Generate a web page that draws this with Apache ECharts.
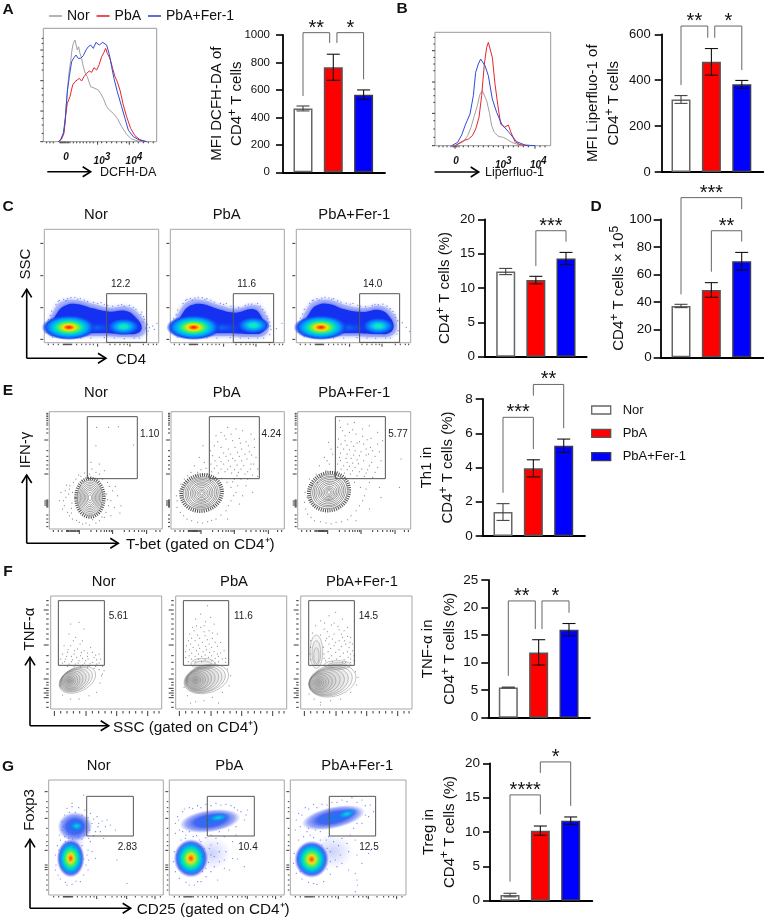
<!DOCTYPE html>
<html>
<head>
<meta charset="utf-8">
<style>html,body{margin:0;padding:0;background:#fff}#chart{width:764px;height:919px}</style>
<script src="https://cdn.jsdelivr.net/npm/echarts@6/dist/echarts.min.js"></script>
</head>
<body>
<div id="chart"></div>
<script>
const FONT = '"Liberation Sans", Arial, sans-serif';
const groups = ['Nor', 'PbA', 'PbA+Fer-1'];

// ---- group summaries: mean and error per treatment ----
const dcfhMean = [465, 765, 565], dcfhErr = [18, 95, 35];
const liperMean = [316, 480, 382], liperErr = [17, 58, 17];
const cd4PctMean = [12.4, 11.15, 14.3], cd4PctErr = [0.45, 0.55, 0.88];
const cd4CountMean = [37.2, 48.8, 69.6], cd4CountErr = [1.2, 5.3, 6.4];
const th1Mean = [1.4, 3.95, 5.27], th1Err = [0.49, 0.5, 0.39];
const tnfMean = [5.5, 11.86, 15.98], tnfErr = [0.06, 2.3, 1.12];
const tregMean = [0.82, 10.2, 11.64], tregErr = [0.26, 0.67, 0.55];

// significance brackets: from, to, top, left foot, right foot, stars
const dcfhBrackets = [[0, 0.88, 1017, 556, 942, '**'], [1.12, 2, 1017, 942, 677, '*']];
const liperBrackets = [[0, 0.88, 636, 379, 585, '**'], [1.11, 2, 636, 585, 444, '*']];
const cd4PctBrackets = [[1, 2, 18.34, 13.2, 16.74, '***']];
const cd4CountBrackets = [[0, 2, 115.7, 45.6, 107.4, '***'], [1, 2, 91.7, 62, 83.8, '**']];
const th1Brackets = [[0, 1, 6.93, 2.53, 5.08, '***'], [1, 2, 8.85, 8.19, 6.29, '**']];
const tnfBrackets = [[0, 0.89, 21.2, 7.6, 16.1, '**'], [1.11, 2, 21.2, 16.1, 19.07, '*']];
const tregBrackets = [[0, 1, 15.4, 2.77, 12.57, '****'], [1, 2, 20.2, 18.6, 13.8, '*']];

// ---- fluorescence histograms (channel, count) ----
const dcfhNor = [[45,0],[52,6],[58,12],[62,30],[65,55],[68,100],[72,150],[75,185],[78,215],[82,240],[86,275],[90,295],[95,305],[98,300],[102,275],[106,285],[110,265],[115,250],[120,225],[126,205],[132,195],[138,200],[142,165],[148,168],[155,160],[165,155],[172,145],[180,130],[190,105],[198,95],[210,85],[222,70],[235,45],[250,22],[265,8],[285,2],[310,0]];
const dcfhPba = [[45,0],[55,8],[62,25],[68,85],[72,115],[80,135],[88,170],[95,180],[100,175],[108,190],[115,182],[122,195],[130,205],[138,212],[145,208],[152,222],[160,215],[168,232],[175,255],[182,268],[187,280],[192,265],[200,250],[208,220],[215,195],[222,180],[230,155],[240,110],[250,75],[262,40],[275,18],[290,6],[310,0]];
const dcfhFer = [[45,0],[52,5],[60,25],[66,70],[72,150],[78,195],[85,240],[92,252],[98,260],[105,250],[112,250],[120,258],[128,275],[135,285],[142,290],[150,280],[158,298],[168,290],[178,298],[190,290],[198,262],[205,225],[212,190],[222,150],[235,105],[245,70],[255,35],[270,15],[290,4],[310,0]];
const liperNor = [[60,0],[85,12],[98,30],[108,55],[118,90],[127,120],[135,155],[142,165],[148,165],[155,135],[163,100],[170,60],[178,40],[190,28],[205,25],[215,20],[230,10],[250,3],[275,0]];
const liperPba = [[60,0],[85,15],[100,20],[112,30],[122,50],[132,85],[140,150],[148,245],[155,295],[160,310],[165,315],[172,265],[180,185],[188,125],[197,65],[208,55],[220,62],[228,40],[240,12],[255,3],[280,0]];
const liperFer = [[50,0],[68,10],[80,32],[92,65],[105,95],[115,150],[122,220],[130,245],[137,260],[143,265],[150,240],[160,210],[172,140],[185,100],[200,65],[220,42],[245,12],[270,2],[300,0]];

// ---- pseudocolour outlines and hot spots (x, y in 1/3-pixel channel units) ----
const cOutlineNor = [[17,22],[15,60],[28,95],[50,122],[95,128],[150,115],[195,105],[250,108],[285,85],[305,50],[295,22],[250,17],[165,20],[65,18],[32,22]];
const cOutlinePba = [[15,24],[14,60],[28,95],[55,125],[95,128],[150,112],[195,102],[258,112],[285,85],[296,50],[285,24],[245,17],[165,20],[65,18],[30,20]];
const cOutlineFer = [[17,24],[16,60],[30,98],[55,124],[100,128],[150,112],[198,104],[255,110],[292,85],[302,50],[290,24],[245,17],[165,20],[65,18],[30,20]];
const cCoreNor = [[28,30],[25,58],[38,88],[60,110],[95,116],[145,103],[195,93],[245,95],[275,75],[292,48],[282,30],[245,26],[165,29],[65,27],[40,30]];
const cCorePba = [[26,30],[24,58],[38,90],[62,112],[95,116],[145,100],[195,90],[250,100],[275,75],[284,48],[274,30],[245,26],[165,29],[65,27],[40,30]];
const cCoreFer = [[28,30],[26,58],[40,90],[62,112],[98,116],[145,100],[198,92],[250,98],[282,75],[291,48],[280,30],[245,26],[165,29],[65,27],[40,30]];
const cSpotsNor = [[150,45,80,20,0,'cool'],[74,46,82,38,0,'hot'],[238,48,50,26,0,'warm']];
const cSpotsPba = [[150,45,80,20,0,'cool'],[70,46,82,38,0,'hot'],[249,52,50,26,0,'warm']];
const cSpotsFer = [[150,45,80,20,0,'cool'],[74,46,82,38,0,'hot'],[246,50,50,26,0,'warm']];

// cell events drawn outside the dense populations
const cDotsNor = [5,30,10,48,12,70,22,95,35,115,58,130,80,135,108,133,130,124,160,118,190,112,222,112,255,112,275,100,290,85,300,70,309,55,312,35,308,25,285,14,240,12,180,15,110,13,55,13,25,16,315,45,325,50,338,58,330,40,12,38,18,82,42,124,70,132,170,120,240,110,298,78,303,44,45,127,92,136,120,128,148,121,205,110,268,106,292,92,296,62,14,56,20,26,70,15,140,14,210,14,270,14,65,126,100,131,180,115,232,114];
const cDotsPba = [4,32,8,50,10,72,22,98,38,118,60,132,84,136,110,132,132,122,160,115,190,108,225,112,262,118,278,100,290,80,298,62,302,40,298,24,280,14,235,13,180,15,110,14,52,13,22,17,318,42,335,58,12,36,18,84,46,127,74,134,168,118,244,116,292,72,300,50,50,130,96,135,122,127,150,118,205,106,270,110,284,92,13,55,20,28,70,15,140,14,210,14,262,14,66,128,104,130,182,110,234,116];
const cDotsFer = [6,32,10,50,12,74,24,100,40,118,62,132,86,136,112,132,134,122,162,116,192,110,228,112,260,116,282,102,296,84,304,66,309,44,302,26,282,14,238,13,182,15,112,14,54,13,24,18,318,60,330,46,340,34,13,38,19,86,48,126,76,134,170,118,246,114,298,76,305,36,52,128,98,134,124,126,150,119,208,108,272,110,290,94,14,58,20,28,72,15,142,14,212,14,268,14,68,128,106,130,184,112,236,115];

// contour levels: centre x, centre y, radius x, radius y, tilt in degrees
const eLevelsNor = [[122,94,37,52,0],[122,94,33,47,0],[122,94,29,42,0],[122,94,25,37,0],[122,94,21,32,0],[122,94,17,27,0],[122,94,13,22,0],[122,94,9,16,0],[122,94,5,9,0]];
const eLevelsPba = [[92,108,56,48,15],[92,108,50,44,15],[92,108,45,40,15],[92,108,40,36,15],[92,108,34,31,15],[92,108,29,27,15],[92,108,24,22,15],[92,107,19,18,10],[92,107,14,13,0],[92,107,9,9,0],[92,107,5,5,0]];
const eLevelsFer = [[94,112,56,50,25],[94,112,50,45,25],[94,112,45,41,25],[94,112,40,36,25],[94,112,34,31,25],[94,112,29,26,25],[94,111,24,22,25],[94,110,19,17,25],[94,110,14,13,20],[94,110,9,9,0],[94,110,5,5,0]];
const eHaloNor = [[122,94,42,58,0]];
const eHaloPba = [[92,108,62,54,15]];
const eHaloFer = [[94,112,62,56,25]];
const eDotsNor = [142,305,178,305,207,307,252,252,140,250,125,200,150,195,140,170,165,175,120,165,128,180,115,160,60,120,50,95,45,70,55,50,70,30,90,20,120,12,150,25,170,50,185,85,190,115,175,140,150,165,95,158,72,140,58,105,40,60,205,100,215,70,35,110,60,40,130,28,100,15,165,35,178,70,66,62,80,150,106,168,52,132,198,128,30,85,212,48,68,78,70,110,172,105,175,88,160,150,88,162,66,48,82,26,110,18,140,18,158,36,62,130,180,128,48,115,42,85,195,65,185,40];
const eDotsPba = [170,305,195,300,215,295,240,285,250,270,150,290,135,280,165,270,185,265,205,272,225,262,250,245,130,250,150,245,172,240,192,245,212,240,235,232,255,215,125,220,145,215,165,218,185,212,205,218,228,210,248,195,260,180,120,195,138,190,158,195,178,188,198,192,218,190,238,180,122,172,142,168,162,172,182,168,202,170,222,165,245,162,260,158,96,250,85,215,100,200,70,190,90,178,105,182,60,170,75,160,40,150,25,115,18,85,28,50,48,30,80,20,110,22,135,30,165,55,180,85,195,110,205,75,170,30,225,130,215,100,245,110,152,152,128,156,190,150,210,150,160,280,180,285,208,258,232,250,140,262,118,235,158,228,178,225,200,230,222,225,242,222,132,205,150,202,172,205,192,205,212,205,130,182,150,180,170,180,190,178,210,180,230,172,240,195,110,165,95,163,80,170,50,160,30,135,16,100,18,65,38,40,62,25,95,18,122,26,150,42,172,70,188,100,200,130,168,140,180,125,230,150,198,160,185,142,118,145];
const eDotsFer = [125,325,150,315,170,320,195,300,215,310,240,290,255,265,135,295,155,290,175,285,195,278,220,272,240,255,122,270,142,265,160,262,178,258,198,255,218,245,245,232,120,245,138,240,155,238,172,235,190,232,212,225,232,218,250,205,125,215,145,212,160,212,178,208,198,205,222,200,240,185,120,195,138,190,155,188,172,185,192,180,210,178,232,170,120,172,140,168,158,165,178,160,200,158,225,155,92,260,105,225,80,215,95,195,65,190,85,175,55,165,70,155,35,150,22,110,20,80,30,45,50,25,85,18,115,20,150,28,175,55,195,85,205,120,215,60,175,25,250,95,310,210,305,125,128,305,142,280,165,298,185,262,208,268,130,255,148,252,168,248,205,240,225,235,128,228,148,225,168,222,185,220,205,222,128,205,148,200,165,198,182,196,215,190,130,180,148,178,165,175,185,172,205,168,110,160,98,172,78,165,100,240,88,205,60,140,45,130,28,95,24,60,40,35,68,22,100,16,132,22,160,40,185,70,200,100,188,125,170,140,215,140,245,125];
const fLevelsNor = [[80,88,58,36,25],[76,88,52,33,25],[72,87,46,31,25],[68,87,40,29,25],[64,86,34,27,25],[60,86,28,25,20],[58,85,23,22,15],[56,85,18,18,0],[55,85,14,14,0],[55,85,10,10,0],[55,85,7,6,0],[55,85,4,3,0]];
const fLevelsPba = [[92,90,68,42,15],[88,90,62,39,15],[84,89,56,37,15],[80,89,50,34,15],[75,88,44,32,15],[70,88,38,29,15],[66,87,32,27,10],[62,87,27,24,10],[60,87,22,20,0],[58,87,17,16,0],[58,87,12,11,0],[58,87,8,7,0],[58,87,4,3,0],[82,136,36,16,0],[82,134,26,10,0]];
const fLevelsFer = [[95,85,72,47,15],[90,84,66,43,15],[84,83,60,40,15],[78,82,54,37,15],[72,82,47,34,15],[66,81,40,30,15],[61,80,34,27,10],[57,80,27,23,10],[55,79,21,19,0],[54,79,15,14,0],[53,79,10,9,0],[53,79,5,4,0],[47,172,19,50,0],[47,168,13,37,0],[47,160,8,24,0],[110,132,40,13,0],[110,131,28,8,0]];
const fDotsNor = [60,255,85,260,100,240,55,225,75,215,95,205,120,185,40,190,60,190,80,180,100,175,125,170,145,165,35,165,50,170,70,165,90,160,110,158,130,155,150,150,30,150,45,150,65,148,85,145,105,145,125,140,145,138,155,128,35,138,55,135,75,135,95,132,115,130,135,128,160,115,152,100,148,78,138,50,115,40,85,30,60,30,35,42,28,70,48,158,62,158,78,155,95,152,112,150,138,148,42,142,62,142,82,138,102,138,118,136,138,135,52,178,72,175,92,170,110,168,135,162,68,205,88,195,50,128,70,128,90,126,110,125,130,122,145,118,155,105];
const fDotsPba = [95,310,75,285,105,275,60,270,90,262,115,255,50,245,75,245,100,235,125,225,42,225,65,222,88,220,110,212,135,200,38,205,58,205,80,200,100,195,125,188,145,175,32,190,52,185,72,182,92,178,115,172,135,168,30,172,48,168,68,165,88,162,108,160,128,158,150,152,30,155,48,150,68,150,88,148,108,145,128,142,150,140,155,120,165,100,160,70,140,50,110,35,85,25,60,22,35,40,25,65,128,18,45,18,62,250,85,250,55,235,85,232,110,228,48,212,72,212,95,208,118,200,45,195,68,192,90,188,108,185,42,178,62,175,82,172,102,170,125,165,40,160,58,158,78,158,98,155,118,152,140,150,38,142,58,142,78,142,118,138];
const fDotsFer = [105,290,85,280,125,270,60,265,100,258,140,245,45,250,70,240,115,238,150,215,35,228,60,222,85,218,125,215,155,195,30,205,75,205,105,200,135,195,155,175,30,185,68,185,90,182,115,178,140,172,160,160,28,165,70,165,92,160,118,158,142,155,160,145,30,148,75,145,95,142,150,140,165,112,172,95,168,72,150,50,120,30,90,25,60,20,40,30,25,45,60,12,72,258,92,252,112,248,130,235,80,232,100,225,122,225,140,218,78,212,95,210,115,205,132,205,148,200,85,195,100,190,122,188,145,185,82,172,105,170,128,168,150,165,85,152,108,150,130,148,150,150,70,152,125,140,135,140];

const gSpotsNor = [[79,205,52,44,0,'soft'],[84,207,24,17,0,'cold'],[80,160,30,30,0,'faint'],[66,110,42,58,0,'hot2']];
const gSpotsPba = [[125,125,60,50,0,'faint'],[122,222,92,34,8,'soft'],[147,232,36,14,8,'cold'],[65,110,52,58,0,'hot2']];
const gSpotsFer = [[125,130,65,52,0,'faint'],[129,232,97,33,12,'soft'],[169,243,34,15,15,'cold'],[64,107,52,56,0,'hot2']];
const gDotsNor = [40,220,48,240,55,260,70,265,90,262,108,255,125,245,145,235,160,222,170,205,155,190,135,178,120,170,100,168,40,195,32,180,50,160,60,170,85,150,95,130,115,120,112,90,105,60,95,40,70,32,50,38,28,60,22,90,20,120,26,148,35,165,130,215,148,205,175,225,185,210,200,195,105,300,205,105,235,35,70,275,125,160,130,130,140,110,165,170,48,175,60,182,72,168,90,175,108,180,122,195,140,190,150,215,118,232,135,228,100,240,80,248,62,248,45,205,118,135,105,108,118,75,30,135,20,75,82,42,55,30,35,48,100,148,75,142,120,105];
const gDotsPba = [18,215,25,235,40,250,60,262,85,268,110,272,140,275,170,272,195,262,215,250,230,240,30,195,18,185,50,180,72,175,95,160,120,140,135,115,150,100,165,80,180,75,205,108,35,165,15,130,12,100,18,70,30,50,50,38,75,30,95,40,110,55,125,70,235,255,140,170,165,175,190,160,200,180,215,140,225,85,145,45,125,150,100,115,170,130,48,170,28,225,45,258,70,260,95,262,125,268,155,270,185,268,205,255,225,225,40,190,60,190,82,178,110,172,125,180,150,190,178,195,200,205,105,140,85,145,118,98,135,85,110,80,100,70,150,130,125,120,165,105,190,110,85,40,60,30,30,80,22,120,90,165,145,155];
const gDotsFer = [18,225,25,245,45,262,70,272,95,272,125,278,155,285,185,292,215,285,240,270,250,250,225,240,200,215,30,205,15,195,50,190,70,172,95,150,120,130,135,105,155,95,175,75,195,65,215,95,235,125,145,148,170,155,195,165,25,165,12,125,10,95,18,65,35,48,55,38,80,32,100,40,120,62,200,45,202,30,195,10,115,175,75,195,240,135,35,240,55,258,80,262,110,270,140,278,170,280,200,278,225,268,235,235,215,215,190,200,55,200,90,190,108,165,130,160,155,170,180,180,110,140,95,130,120,100,140,85,110,78,150,120,175,130,200,120,90,165,60,180,40,175,70,35,30,70,22,110];

// ---- gates: x0, y0, x1, y1 and the printed frequency ----
const cGates = [[187,1,307,147],[189,1,310,147],[190,1,310,147]];
const cGateValues = ['12.2', '11.6', '14.0'];
const eGates = [[114,151,264,337],[115,151,265,337],[113,151,263,337]];
const eGateValues = ['1.10', '4.24', '5.77'];
const fGates = [[23,131,161,325],[23,131,159,325],[24,131,161,325]];
const fGateValues = ['5.61', '11.6', '14.5'];
const gGates = [[114,177,254,296],[114,177,255,296],[117,177,256,296]];
const gGateValues = ['2.83', '10.4', '12.5'];

// ---- channel tick positions on the biexponential scales ----
const cTicks = {xMajor:[160,257], xMinor:[12,27,42,57,60,63,66,69,72,75,78,82,97,112,125,137,147,197,212,227,239,249,297,312,327,337], yMajor:[298,201,105,10], yMinor:[]};
const eTicks = {xMajor:[90,190,292], xMinor:[12,27,38,52,55,58,62,65,68,71,74,77,80,84,87,125,142,155,165,172,180,186,225,240,255,268,278,285,320,332], yMajor:[267,165,78,72,84], yMinor:[347,342,337,331,325,318,312,300,288,235,218,205,192,180,87,81,75,69,66,42,30,20,7]};
const fTicks = {xMajor:[11,106,198,291], xMinor:[30,49,68,87,125,144,163,182,217,236,255,274,310,325], yMajor:[297,192,90,62,48,34], yMinor:[325,312,285,270,255,240,225,210,160,140,120,105,80,72,55,41,20,5]};
const gTicks = {xMajor:[144,234,319], xMinor:[15,30,44,47,50,53,56,59,62,65,68,72,86,100,112,125,136,170,190,205,218,228,260,280,295,310,335], yMajor:[310,230,134,90,83,76], yMinor:[280,262,250,200,180,160,148,60,45,30,15]};
const histATicks = {xMajor:[163,258], xMinor:[10,20,30,50,53,56,59,62,65,68,72,75,80,90,100,110,120,130,140,150,175,190,205,220,235,250,270,285,300,315,330], yMajor:[275,183,92,0], yMinor:[310,295,255,235,215,160,140,120,70,50,25]};
const histBTicks = {xMajor:[60,205,300], xMinor:[12,24,36,48,54,57,63,66,72,85,100,115,130,145,160,175,190,220,235,250,265,280,315,330], yMajor:[285,191,97,0], yMinor:[325,305,265,245,225,170,150,130,75,50,25]};

// ---- palettes for the density hot spots ----
const ramps = {
  hot:  [[0,'#ff1200'],[0.12,'#ff7000'],[0.22,'#ffe000'],[0.35,'#70f040'],[0.5,'#00e0c0'],[0.68,'#00a0ff'],[0.85,'#1050f0'],[1,'rgba(20,40,240,0)']],
  warm: [[0,'#10f0a0'],[0.22,'#10e0d0'],[0.5,'#00a0ff'],[0.8,'#1050f0'],[1,'rgba(20,40,240,0)']],
  cool: [[0,'#0a70f5'],[1,'rgba(20,50,240,0)']],
  hot2: [[0,'#ff3010'],[0.1,'#ff9000'],[0.22,'#e8e020'],[0.38,'#40f060'],[0.52,'#00d8c8'],[0.68,'#00a0f0'],[0.82,'rgba(40,70,240,.8)'],[1,'rgba(70,90,245,0)']],
  cold: [[0,'#10d0e8'],[0.5,'#1090f0'],[1,'rgba(30,90,240,0)']],
  soft: [[0,'#1878f0'],[0.5,'rgba(35,75,240,.85)'],[0.8,'rgba(60,85,240,.5)'],[1,'rgba(80,100,245,0)']],
  faint:[[0,'rgba(70,90,240,.28)'],[1,'rgba(80,100,245,0)']]
};
const toGradient = name => new echarts.graphic.RadialGradient(0.5, 0.5, 0.5,
  ramps[name].map(s => ({offset: s[0], color: s[1]})));

const pairs = flat => { const out = []; for (let i = 0; i < flat.length; i += 2) out.push([flat[i], flat[i + 1]]); return out; };

const grids = [], xAxes = [], yAxes = [], series = [];

// Registers a grid and its pair of value axes, returning the index for series to attach to.
function addGrid(grid, xAxis, yAxis) {
  const index = grids.length;
  grids.push(grid);
  xAxes.push(Object.assign({gridIndex: index, type: 'value'}, xAxis));
  yAxes.push(Object.assign({gridIndex: index, type: 'value'}, yAxis));
  return index;
}

// Bar panel with error bars, brackets and a two-line axis title.
function barPanel(p) {
  const g = addGrid(
    {left: p.axisX, top: p.yTop, width: p.xEnd - p.axisX, height: p.y0 - p.yTop, containLabel: false},
    {min: (p.axisX - p.c0) / p.step, max: 2 + (p.xEnd - p.c0 - 2 * p.step) / p.step,
     axisLine: {show: true, onZero: false, lineStyle: {color: '#000', width: 1.8}}, axisTick: {show: false}, axisLabel: {show: false}, splitLine: {show: false}},
    {min: 0, max: p.max, interval: p.interval, name: p.title, nameLocation: 'middle', nameRotate: 90, nameGap: p.nameGap,
     nameMoveOverlap: false,
     nameTextStyle: {fontFamily: FONT, fontSize: p.titleSize, color: '#111', lineHeight: p.titleLine, align: 'center',
       rich: {sup: {fontFamily: FONT, fontSize: p.titleSize - 3, verticalAlign: 'top', color: '#111', padding: [0, 0, 6, 0]}}},
     axisLine: {show: true, onZero: false, lineStyle: {color: '#000', width: 1.8}}, axisTick: {show: true, length: 7, lineStyle: {color: '#000', width: 1.6}},
     axisLabel: {fontFamily: FONT, fontSize: p.labelSize, color: '#111', margin: p.labelMargin, formatter: v => String(v)}, splitLine: {show: false}}
  );
  series.push({
    type: 'bar', xAxisIndex: g, yAxisIndex: g, barWidth: 19, silent: true, z: 2,
    data: p.mean.map((v, i) => ({value: [i, v], itemStyle: {
      color: ['#ffffff', '#ff0000', '#0000ff'][i], borderColor: ['#666', '#555', '#3a3a55'][i], borderWidth: 1.5}}))
  });
  // error bars sit on top of the bars so the lower whisker stays visible
  series.push({
    type: 'custom', xAxisIndex: g, yAxisIndex: g, silent: true, z: 6,
    data: p.mean.map((v, i) => [i, v - p.err[i], v + p.err[i]]),
    renderItem(params, api) {
      const lo = api.coord([api.value(0), api.value(1)]), hi = api.coord([api.value(0), api.value(2)]);
      const style = {stroke: api.value(0) === 0 ? '#444' : '#111', lineWidth: 1.1};
      return {type: 'group', children: [
        {type: 'line', shape: {x1: lo[0], y1: lo[1], x2: hi[0], y2: hi[1]}, style},
        {type: 'line', shape: {x1: lo[0] - 6.5, y1: lo[1], x2: lo[0] + 6.5, y2: lo[1]}, style},
        {type: 'line', shape: {x1: hi[0] - 6.5, y1: hi[1], x2: hi[0] + 6.5, y2: hi[1]}, style}
      ]};
    }
  });
  series.push({
    type: 'custom', xAxisIndex: g, yAxisIndex: g, silent: true, z: 6,
    data: p.brackets.map((b, i) => [i]),
    renderItem(params, api) {
      const b = p.brackets[api.value(0)];
      const a = api.coord([b[0], b[3]]), t1 = api.coord([b[0], b[2]]), t2 = api.coord([b[1], b[2]]), c = api.coord([b[1], b[4]]);
      return {type: 'group', children: [
        {type: 'polyline', shape: {points: [a, t1, t2, c]}, style: {stroke: '#666', lineWidth: 1, fill: null}},
        {type: 'text', x: (t1[0] + t2[0]) / 2, y: t1[1] - 4.5, style: {text: b[5], font: '20px ' + FONT, fill: '#111', textAlign: 'center', textVerticalAlign: 'middle'}}
      ]};
    }
  });
}

// Drawing helpers for the cytometry panels, all placed through the panel's own axes.
function polygonEl(api, pts, style) {
  return {type: 'polygon', shape: {points: pts.map(q => api.coord(q)), smooth: 0.45}, style};
}
function ellipseEl(api, e, style) {
  const c = api.coord([e[0], e[1]]), s = api.size([e[2], e[3]]);
  return {type: 'ellipse', shape: {cx: 0, cy: 0, rx: s[0], ry: s[1]}, x: c[0], y: c[1], rotation: e[4] * Math.PI / 180, style};
}
function spotEl(api, e) {
  const c = api.coord([e[0], e[1]]), s = api.size([e[2], e[3]]);
  return {type: 'circle', shape: {cx: 0, cy: 0, r: 10}, x: c[0], y: c[1], scaleX: s[0] / 10, scaleY: s[1] / 10,
    rotation: e[4] * Math.PI / 180, style: {fill: toGradient(e[5])}};
}
function tickEls(api, ticks, W, H, gap, major, minor, color) {
  const out = [];
  const xTick = (v, len) => { const q = api.coord([v, 0]); out.push({type: 'line', shape: {x1: q[0], y1: q[1] + gap, x2: q[0], y2: q[1] + gap + len}, style: {stroke: color, lineWidth: 0.9}}); };
  const yTick = (v, len) => { const q = api.coord([0, v]); out.push({type: 'line', shape: {x1: q[0] - gap, y1: q[1], x2: q[0] - gap - len, y2: q[1]}, style: {stroke: color, lineWidth: 0.9}}); };
  ticks.xMajor.forEach(v => xTick(v, major));
  ticks.xMinor.forEach(v => xTick(v, minor));
  ticks.yMajor.forEach(v => yTick(v, major));
  ticks.yMinor.forEach(v => yTick(v, minor));
  return out;
}

// One gated cytometry plot; `paint` supplies the density or contour artwork.
function flowPanel(r, o) {
  const W = (r[1] - r[0]) * 3, H = (r[3] - r[2]) * 3;
  const g = addGrid(
    {left: r[0], top: r[2], width: r[1] - r[0], height: r[3] - r[2], show: true, borderColor: '#a6a6a6', borderWidth: 1, backgroundColor: 'transparent'},
    {min: 0, max: W, show: false}, {min: 0, max: H, show: false}
  );
  series.push({type: 'scatter', xAxisIndex: g, yAxisIndex: g, silent: true, symbol: 'circle', symbolSize: o.dotSize,
    itemStyle: {color: o.dotColor, opacity: 0.85}, data: pairs(o.dots)});
  series.push({
    type: 'custom', xAxisIndex: g, yAxisIndex: g, silent: true, data: [[0]],
    renderItem(params, api) {
      const kids = o.paint(api);
      const a = api.coord([o.gate[0], o.gate[1]]), b = api.coord([o.gate[2], o.gate[3]]);
      kids.push({type: 'rect', shape: {x: a[0], y: b[1], width: b[0] - a[0], height: a[1] - b[1]}, style: {fill: null, stroke: '#555', lineWidth: 1}});
      const l = api.coord(o.labelAt);
      kids.push({type: 'text', x: l[0], y: l[1], style: {text: o.label, font: '10px ' + FONT, fill: '#222', textAlign: 'center', textVerticalAlign: 'middle'}});
      return {type: 'group', children: kids.concat(tickEls(api, o.ticks, W, H, o.tickGap, o.tickMajor, o.tickMinor, '#222'))};
    }
  });
}
const densityPaint = (outline, core, spots) => api => [
  polygonEl(api, outline, {fill: '#b4bdf8', shadowBlur: 4, shadowColor: '#b4bdf8'}),
  polygonEl(api, core, {fill: '#1430f0', shadowBlur: 5, shadowColor: '#3a4af0'})
].concat(spots.map(s => spotEl(api, s)));
const spotPaint = spots => api => spots.map(s => spotEl(api, s));
// Nested contour lines; `shade` builds up a gray wash toward the densest level.
const contourPaint = (levels, halo, stroke, lineWidth, shade) => api =>
  halo.map(h => ellipseEl(api, h, {fill: null, stroke: '#222', lineWidth: 3.5, lineDash: [1, 1.2], opacity: 0.8}))
    .concat(levels.map((e, i) => ellipseEl(api, e, {fill: i === 0 ? '#fff' : shade, stroke, lineWidth})));

// Histogram overlay with a hand-set log-style channel axis.
function histPanel(r, curves, labelVals, labelText, ticks) {
  const W = (r[1] - r[0]) * 3, H = (r[3] - r[2]) * 3;
  const g = addGrid(
    {left: r[0], top: r[2], width: r[1] - r[0], height: r[3] - r[2], show: true, borderColor: '#999', borderWidth: 1, backgroundColor: 'transparent'},
    {min: 0, max: W, axisLine: {show: false}, axisTick: {show: false}, splitLine: {show: false},
     axisLabel: {customValues: labelVals, margin: 11, formatter: v => labelText[labelVals.indexOf(v)], color: '#111',
       fontFamily: FONT, fontSize: 10, fontStyle: 'italic', fontWeight: 'bold',
       rich: {s: {fontFamily: FONT, fontSize: 10, fontStyle: 'italic', fontWeight: 'bold', color: '#111', verticalAlign: 'bottom', padding: [0, 0, 8, 0]}}}},
    {min: 0, max: H, axisLine: {show: false}, axisTick: {show: false}, axisLabel: {show: false}, splitLine: {show: false}}
  );
  const colors = ['#a0a0a0', '#e5262b', '#2f4cd6'];
  curves.forEach((c, i) => series.push({name: groups[i], type: 'line', xAxisIndex: g, yAxisIndex: g, symbol: 'none', silent: true,
    lineStyle: {color: colors[i], width: 1}, itemStyle: {color: colors[i]}, data: c}));
  series.push({type: 'custom', xAxisIndex: g, yAxisIndex: g, silent: true, data: [[0]],
    renderItem(params, api) { return {type: 'group', children: tickEls(api, ticks, W, H, 0, 3, 1.6, '#222')}; }});
}

histPanel([43.3, 156.7, 28.3, 141.7], [dcfhNor, dcfhPba, dcfhFer], [68, 176, 272], ['0', '10{s|3}', '10{s|4}'], histATicks);
histPanel([435, 550.7, 32.3, 145.7], [liperNor, liperPba, liperFer], [63, 205, 310], ['0', '10{s|3}', '10{s|4}'], histBTicks);

const brLine = '\n';
barPanel({mean: dcfhMean, err: dcfhErr, max: 1000, interval: 200, axisX: 283, xEnd: 385, y0: 172.3, yTop: 35, c0: 303, step: 30.3,
  labelSize: 11.5, labelMargin: 13, titleSize: 15, titleLine: 20, nameGap: 36, title: 'MFI DCFH-DA of' + brLine + 'CD4{sup|+} T cells', brackets: dcfhBrackets});
barPanel({mean: liperMean, err: liperErr, max: 600, interval: 200, axisX: 661.7, xEnd: 763.5, y0: 172, yTop: 34.3, c0: 681, step: 30.4,
  labelSize: 13, labelMargin: 11, titleSize: 15, titleLine: 21, nameGap: 37, title: 'MFI Liperfluo-1 of' + brLine + 'CD4{sup|+} T cells', brackets: liperBrackets});
barPanel({mean: cd4PctMean, err: cd4PctErr, max: 20, interval: 5, axisX: 485, xEnd: 586.7, y0: 356.7, yTop: 219.3, c0: 505.7, step: 30.15,
  labelSize: 13.5, labelMargin: 10, titleSize: 15, titleLine: 20, nameGap: 30, title: 'CD4{sup|+} T cells (%)', brackets: cd4PctBrackets});
barPanel({mean: cd4CountMean, err: cd4CountErr, max: 100, interval: 20, axisX: 660.7, xEnd: 763.5, y0: 357.3, yTop: 219.3, c0: 681, step: 30.35,
  labelSize: 13.5, labelMargin: 9, titleSize: 15, titleLine: 20, nameGap: 32, title: 'CD4{sup|+} T cells × 10{sup|5}', brackets: cd4CountBrackets});
barPanel({mean: th1Mean, err: th1Err, max: 8, interval: 2, axisX: 482.7, xEnd: 585, y0: 536, yTop: 399, c0: 503, step: 30.35,
  labelSize: 13.5, labelMargin: 10, titleSize: 15, titleLine: 21, nameGap: 24, title: 'Th1 in' + brLine + 'CD4{sup|+} T cells (%)', brackets: th1Brackets});
barPanel({mean: tnfMean, err: tnfErr, max: 25, interval: 5, axisX: 488.3, xEnd: 590, y0: 717.7, yTop: 580, c0: 508.3, step: 30.35,
  labelSize: 13.5, labelMargin: 10, titleSize: 15, titleLine: 22, nameGap: 27, title: 'TNF-α in' + brLine + 'CD4{sup|+} T cells (%)', brackets: tnfBrackets});
barPanel({mean: tregMean, err: tregErr, max: 20, interval: 5, axisX: 490, xEnd: 592.3, y0: 900.7, yTop: 763.3, c0: 510, step: 30.35,
  labelSize: 13.5, labelMargin: 10, titleSize: 15, titleLine: 21, nameGap: 30, title: 'Treg in' + brLine + 'CD4{sup|+} T cells (%)', brackets: tregBrackets});

// CD4 gating row
const cRects = [[44.3, 158.7, 229.3, 342.7], [170.3, 284.3, 229.3, 342.7], [296.3, 410.7, 229.3, 342.7]];
const cArt = [[cOutlineNor, cCoreNor, cSpotsNor, cDotsNor], [cOutlinePba, cCorePba, cSpotsPba, cDotsPba], [cOutlineFer, cCoreFer, cSpotsFer, cDotsFer]];
cRects.forEach((r, i) => flowPanel(r, {dots: cArt[i][3], dotColor: '#5566f0', dotSize: 1.3,
  paint: densityPaint(cArt[i][0], cArt[i][1], cArt[i][2]), gate: cGates[i], label: cGateValues[i], labelAt: [229, 176],
  ticks: cTicks, tickGap: 1, tickMajor: 3, tickMinor: 1.5}));

// Th1 row
const eRects = [[49.3, 162.3, 411.7, 529], [171, 284.3, 411.7, 529], [297.7, 410.7, 411.7, 529]];
const eArt = [[eLevelsNor, eHaloNor, eDotsNor], [eLevelsPba, eHaloPba, eDotsPba], [eLevelsFer, eHaloFer, eDotsFer]];
eRects.forEach((r, i) => flowPanel(r, {dots: eArt[i][2], dotColor: '#333', dotSize: 1,
  paint: contourPaint(eArt[i][0], eArt[i][1], '#555', 0.55, null), gate: eGates[i], label: eGateValues[i], labelAt: [301, 284],
  ticks: eTicks, tickGap: 1, tickMajor: 4, tickMinor: 2}));

// TNF-alpha row
const fRects = [[50.7, 161.7, 596, 709], [175.7, 286.7, 596, 709], [300.7, 412, 596, 709]];
const fArt = [[fLevelsNor, fDotsNor], [fLevelsPba, fDotsPba], [fLevelsFer, fDotsFer]];
fRects.forEach((r, i) => flowPanel(r, {dots: fArt[i][1], dotColor: '#444', dotSize: 1,
  paint: contourPaint(fArt[i][0], [], '#808080', 0.45, 'rgba(110,110,110,.06)'), gate: fGates[i], label: fGateValues[i], labelAt: [203, 279],
  ticks: fTicks, tickGap: 2, tickMajor: 5, tickMinor: 2.5}));

// Treg row
const gRects = [[48.7, 163.3, 780, 895], [169.3, 284.3, 780, 895], [290.3, 406, 780, 895]];
const gArt = [[gSpotsNor, gDotsNor], [gSpotsPba, gDotsPba], [gSpotsFer, gDotsFer]];
gRects.forEach((r, i) => flowPanel(r, {dots: gArt[i][1], dotColor: '#4a5cf0', dotSize: 1.2,
  paint: spotPaint(gArt[i][0]), gate: gGates[i], label: gGateValues[i], labelAt: [236, 142],
  ticks: gTicks, tickGap: 1, tickMajor: 3, tickMinor: 1.5}));

// ---- free-standing captions, panel letters and axis arrows ----
const txt = (text, x, y, size, extra) => ({type: 'text', x, y, silent: true, rotation: (extra && extra.rot) || 0,
  style: {text, font: ((extra && extra.weight) || '') + ' ' + size + 'px ' + FONT, fill: '#111',
    textAlign: (extra && extra.align) || 'center', textVerticalAlign: 'middle'}});
const arrowPath = (x0, y0, x1, y1) => ({type: 'polyline', silent: true, shape: {points: [[x0, y0], [x1, y1]]}, style: {stroke: '#000', lineWidth: 1.6, fill: null}});
const headRight = (x, y) => ({type: 'polyline', silent: true, shape: {points: [[x - 8, y - 5], [x, y], [x - 8, y + 5]]}, style: {stroke: '#000', lineWidth: 1.6, fill: null}});
const headUp = (x, y) => ({type: 'polyline', silent: true, shape: {points: [[x - 5, y + 8], [x, y], [x + 5, y + 8]]}, style: {stroke: '#000', lineWidth: 1.6, fill: null}});
const axesArrow = (x, top, bottom, right) => [arrowPath(x, top, x, bottom), arrowPath(x, bottom, right, bottom), headUp(x, top), headRight(right, bottom)];

const panelLetters = [['A', 8, 10], ['B', 402, 9], ['C', 8, 207], ['D', 596, 207], ['E', 8, 391], ['F', 8, 572], ['G', 8, 767]];
const columnTitles = [
  [96, 215, 226.7, 215, 354.3, 215], [96, 393.3, 226.7, 393.3, 354.3, 393.3],
  [103.7, 581.7, 234, 581.7, 362, 581.7], [98.7, 765.7, 229.3, 765.7, 357.3, 765.7]
];
const barKey = [['#ffffff', '#666', 410], ['#ff0000', '#555', 433.3], ['#0000ff', '#3a3a55', 456.7]];

const elements = [];
panelLetters.forEach(l => elements.push(txt(l[0], l[1], l[2], 15.5, {weight: 'bold'})));
columnTitles.forEach(t => groups.forEach((n, i) => elements.push(txt(n, t[i * 2], t[i * 2 + 1], 14.8))));
elements.push(
  arrowPath(47.3, 171.7, 90, 171.7), headRight(90.7, 171.7), txt('DCFH-DA', 100, 172.5, 12.5, {align: 'left'}),
  arrowPath(434.5, 172, 478, 172), headRight(478.7, 172), txt('Liperfluo-1', 485, 172.5, 12.5, {align: 'left'})
);
elements.push(...axesArrow(26.7, 289.3, 358.3, 106), txt('SSC', 26, 264, 15, {rot: Math.PI / 2}), txt('CD4', 116, 360, 15, {align: 'left'}));
elements.push(...axesArrow(26.7, 475, 543.3, 118.3), txt('IFN-γ', 26, 450, 15, {rot: Math.PI / 2}), txt('T-bet (gated on CD4⁺)', 126, 545, 15.3, {align: 'left'}));
elements.push(...axesArrow(30, 657.3, 725.7, 108.7), txt('TNF-α', 30, 629, 15, {rot: Math.PI / 2}), txt('SSC (gated on CD4⁺)', 113, 727.7, 15.3, {align: 'left'}));
elements.push(...axesArrow(30, 839.3, 908.3, 130.7), txt('Foxp3', 30, 810, 15, {rot: Math.PI / 2}), txt('CD25 (gated on CD4⁺)', 136.7, 909.7, 15.3, {align: 'left'}));
barKey.forEach((k, i) => {
  elements.push({type: 'rect', silent: true, shape: {x: 591.7, y: k[2] - 4, width: 19, height: 8}, style: {fill: k[0], stroke: k[1], lineWidth: 1.3}});
  elements.push(txt(groups[i], 622.7, k[2], 13, {align: 'left'}));
});

echarts.init(document.getElementById('chart'), null, {renderer: 'canvas'}).setOption({
  backgroundColor: '#fff',
  animation: false,
  legend: {left: 44, top: 4, icon: 'rect', itemWidth: 13, itemHeight: 1.6, itemGap: 7, selectedMode: false, data: groups,
    textStyle: {fontFamily: FONT, fontSize: 14, color: '#111'}},
  grid: grids, xAxis: xAxes, yAxis: yAxes, series,
  graphic: {elements}
});
</script>
</body>
</html>
